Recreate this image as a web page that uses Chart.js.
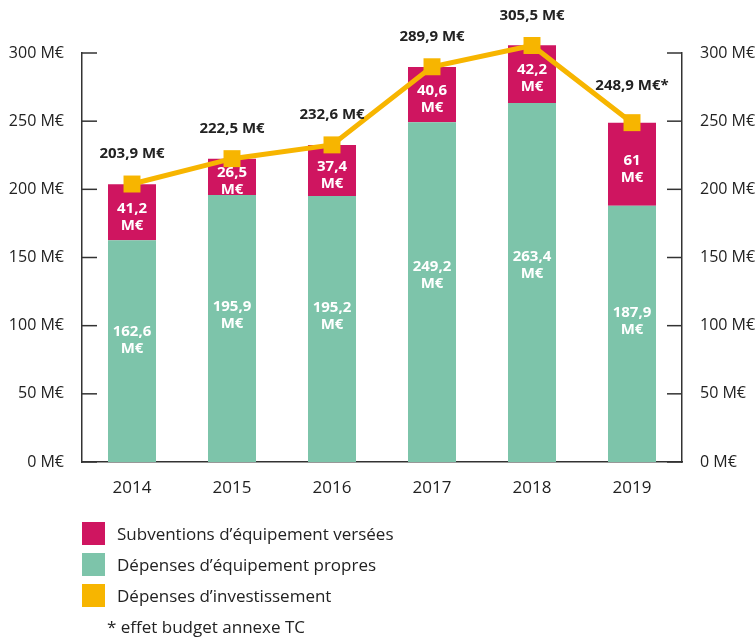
<!DOCTYPE html>
<html lang="fr">
<head>
<meta charset="utf-8">
<script src="https://cdn.jsdelivr.net/npm/chart.js@4/dist/chart.umd.min.js"></script>
<style>
  body { margin: 0; background: #fff; font-family: 'Open Sans', sans-serif; color: #222; }
  #wrap { position: relative; width: 755px; height: 637px; }
  #legend { position: absolute; left: 82px; top: 518px; font-size: 17px; }
  .item { display: flex; align-items: center; height: 31px; }
  .box { width: 23px; height: 23px; margin-right: 12px; }
  .note { margin-left: 25px; margin-top: 4px; }
</style>
</head>
<body>
<div id="wrap">
  <canvas id="myChart" width="755" height="637"></canvas>
  <div id="legend">
    <div class="item"><span class="box" style="background:#CF1560"></span>Subventions d’équipement versées</div>
    <div class="item"><span class="box" style="background:#7DC4AA"></span>Dépenses d’équipement propres</div>
    <div class="item"><span class="box" style="background:#F7B500"></span>Dépenses d’investissement</div>
    <div class="note">* effet budget annexe TC</div>
  </div>
</div>
<script>
const years = ['2014', '2015', '2016', '2017', '2018', '2019'];
const depensesPropres = [162.6, 195.9, 195.2, 249.2, 263.4, 187.9];
const subventions = [41.2, 26.5, 37.4, 40.6, 42.2, 61];
const investissement = [203.9, 222.5, 232.6, 289.9, 305.5, 248.9];
const notes = ['', '', '', '', '', '*'];
const yTicks = [0, 50, 100, 150, 200, 250, 300];

const magenta = '#CF1560';
const vert = '#7DC4AA';
const jaune = '#F7B500';
const police = "'Open Sans', sans-serif";

function fmt(v) {
    return String(v).replace('.', ',');
}

// petits traits de graduation vers l'intérieur
const tickMarks = {
    id: 'tickMarks',
    afterDraw(chart) {
        const ctx = chart.ctx;
        const area = chart.chartArea;
        ctx.save();
        ctx.strokeStyle = '#333';
        ctx.lineWidth = 1.5;
        ['y', 'y2'].forEach(id => {
            const scale = chart.scales[id];
            yTicks.forEach(v => {
                const py = scale.getPixelForValue(v);
                ctx.beginPath();
                if (id === 'y') {
                    ctx.moveTo(area.left, py);
                    ctx.lineTo(area.left + 15, py);
                } else {
                    ctx.moveTo(area.right - 15, py);
                    ctx.lineTo(area.right, py);
                }
                ctx.stroke();
            });
        });
        ctx.restore();
    }
};

// valeurs dans les barres et au-dessus de la courbe
const valeurs = {
    id: 'valeurs',
    afterDatasetsDraw(chart) {
        const ctx = chart.ctx;
        ctx.save();
        ctx.textAlign = 'center';
        ctx.textBaseline = 'middle';
        ctx.fillStyle = '#fff';
        ctx.font = 'bold 15px ' + police;

        chart.getDatasetMeta(1).data.forEach((el, i) => {
            const cy = el.base - 0.55 * (el.base - el.y);
            ctx.fillText(fmt(depensesPropres[i]), el.x, cy - 8);
            ctx.fillText('M€', el.x, cy + 9);
        });
        chart.getDatasetMeta(2).data.forEach((el, i) => {
            const cy = (el.base + el.y) / 2 + 4;
            ctx.fillText(fmt(subventions[i]), el.x, cy - 8);
            ctx.fillText('M€', el.x, cy + 9);
        });

        ctx.fillStyle = '#222';
        ctx.font = 'bold 15px ' + police;
        chart.getDatasetMeta(0).data.forEach((el, i) => {
            const up = notes[i] ? 37 : 30;
            ctx.fillText(fmt(investissement[i]) + ' M€' + notes[i], el.x, el.y - up);
        });
        ctx.restore();
    }
};

const xFont = { family: police, size: 17 };
const yFont = { family: police, size: 16 };

new Chart(document.getElementById('myChart').getContext('2d'), {
    data: {
        labels: years,
        datasets: [{
            type: 'line',
            label: 'Dépenses d’investissement',
            data: investissement,
            yAxisID: 'y2',
            order: 0,
            borderColor: jaune,
            backgroundColor: jaune,
            borderWidth: 5,
            tension: 0,
            pointStyle: 'rect',
            pointRadius: 12,
            pointHoverRadius: 12,
            pointBorderWidth: 0,
            clip: false
        }, {
            type: 'bar',
            label: 'Dépenses d’équipement propres',
            data: depensesPropres,
            yAxisID: 'y',
            order: 1,
            backgroundColor: vert,
            categoryPercentage: 1,
            barPercentage: 0.48,
            clip: false
        }, {
            type: 'bar',
            label: 'Subventions d’équipement versées',
            data: subventions,
            yAxisID: 'y',
            order: 1,
            backgroundColor: magenta,
            categoryPercentage: 1,
            barPercentage: 0.48,
            clip: false
        }]
    },
    options: {
        responsive: false,
        animation: false,
        events: [],
        layout: { padding: { top: 53, left: 0, right: 0, bottom: 0 } },
        plugins: {
            legend: { display: false },
            tooltip: { enabled: false }
        },
        scales: {
            x: {
                stacked: true,
                grid: { display: false },
                border: { display: true, color: '#333', width: 1.5 },
                ticks: { color: '#222', font: xFont, padding: 8 },
                afterFit(scale) { scale.height = 637 - 462; }
            },
            y: {
                position: 'left',
                stacked: true,
                min: 0,
                max: 300,
                grid: { display: false },
                border: { display: true, color: '#333', width: 1.5 },
                ticks: {
                    stepSize: 50,
                    color: '#222',
                    font: yFont,
                    padding: 10,
                    callback: v => v + ' M€'
                },
                afterFit(scale) { scale.width = 82; }
            },
            y2: {
                position: 'right',
                min: 0,
                max: 300,
                grid: { display: false },
                border: { display: true, color: '#333', width: 1.5 },
                ticks: {
                    stepSize: 50,
                    color: '#222',
                    font: yFont,
                    padding: 10,
                    callback: v => v + ' M€'
                },
                afterFit(scale) { scale.width = 73; }
            }
        }
    },
    plugins: [tickMarks, valeurs]
});
</script>
</body>
</html>
